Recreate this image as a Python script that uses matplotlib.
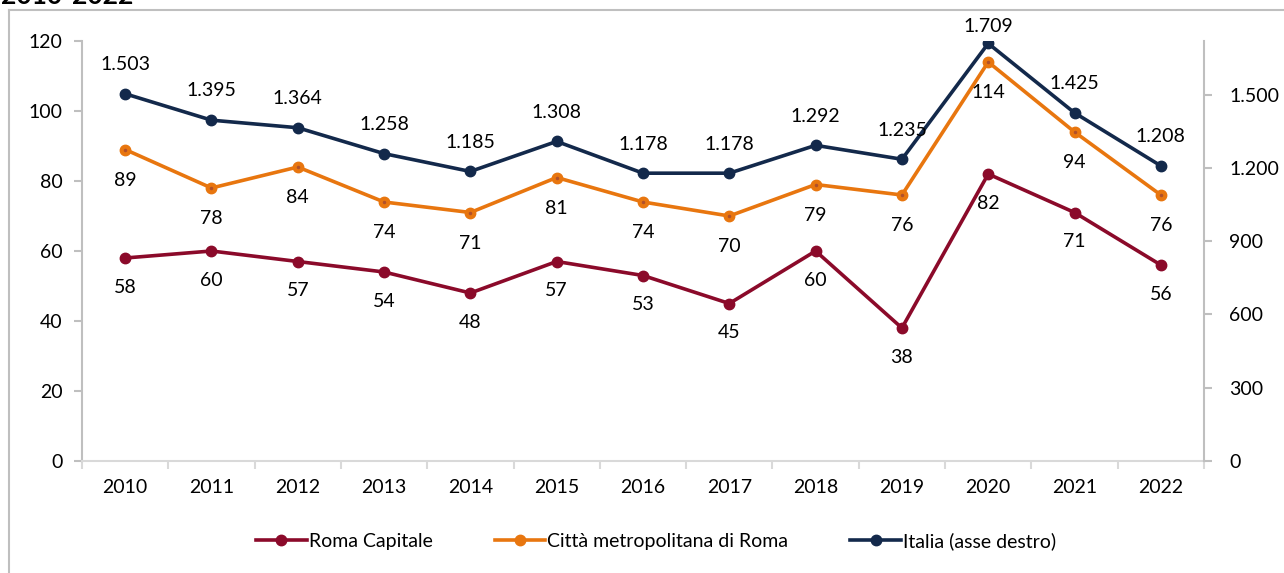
import matplotlib.pyplot as plt
from matplotlib.lines import Line2D
from matplotlib.ticker import FixedLocator, FuncFormatter

anni = ['2010', '2011', '2012', '2013', '2014', '2015', '2016',
        '2017', '2018', '2019', '2020', '2021', '2022']
roma = [58, 60, 57, 54, 48, 57, 53, 45, 60, 38, 82, 71, 56]
citta = [89, 78, 84, 74, 71, 81, 74, 70, 79, 76, 114, 94, 76]
italia = [1503, 1395, 1364, 1258, 1185, 1308, 1178, 1178, 1292, 1235, 1709, 1425, 1208]

c_roma = '#8B0A2A'
c_citta = '#E8760F'
c_italia = '#13294B'
grigio = '#BFBFBF'

plt.rcParams['font.family'] = ['Lato', 'DejaVu Sans']


def punto(v):
    return f'{v:,}'.replace(',', '.')


fig = plt.figure(figsize=(12.84, 5.73), dpi=100)
W, H = 1284, 573

# cornice esterna e titolo tagliato
fig.add_artist(Line2D([9 / W, 9 / W], [0, 1 - 10 / H], color=grigio, lw=1.5))
fig.add_artist(Line2D([9 / W, 1], [1 - 10 / H, 1 - 10 / H], color=grigio, lw=1.5))
fig.text(0.001, 1 - 4 / H, '2010-2022', fontsize=19, weight='bold', va='baseline')

ax = fig.add_axes([82 / W, 1 - 461 / H, (1204 - 82) / W, (461 - 41) / H])
ax2 = ax.twinx()

x = list(range(len(anni)))
ax.plot(x, roma, color=c_roma, lw=2.6, marker='o', ms=7.5, label='Roma Capitale', zorder=3)
ax.plot(x, citta, color=c_citta, lw=2.6, marker='o', ms=7.5, label='Città metropolitana di Roma', zorder=3)
ax.plot(x, citta, ls='none', marker='o', ms=1.5, color='#B0502A', zorder=4)
ax2.plot(x, italia, color=c_italia, lw=2.6, marker='o', ms=7.5, label='Italia (asse destro)', zorder=3)

for i in x:
    ax.annotate(str(roma[i]), (i, roma[i]), xytext=(0, -21), textcoords='offset points',
                ha='center', va='center', fontsize=14)
    ax.annotate(str(citta[i]), (i, citta[i]), xytext=(0, -22), textcoords='offset points',
                ha='center', va='center', fontsize=14)
    su = 21 if italia[i] < 1600 else 12
    ax2.annotate(punto(italia[i]), (i, italia[i]), xytext=(0, su), textcoords='offset points',
                 ha='center', va='center', fontsize=14)

ax.set_xlim(-0.5, 12.5)
ax.set_ylim(0, 120)
ax2.set_ylim(0, 1719)
ax.set_yticks(range(0, 121, 20))
ax2.set_yticks(range(0, 1501, 300))
ax2.yaxis.set_major_formatter(FuncFormatter(lambda v, p: punto(int(v))))

ax.set_xticks(x)
ax.set_xticklabels(anni)
ax.xaxis.set_minor_locator(FixedLocator([i - 0.5 for i in range(len(anni) + 1)]))
ax.tick_params(axis='x', which='major', length=0, pad=13, labelsize=14)
ax.tick_params(axis='x', which='minor', length=6, color='#D9D9D9', width=1.5)
ax.tick_params(axis='y', length=6, color=grigio, width=1.5, labelsize=14, pad=8)
ax2.tick_params(axis='y', length=6, color=grigio, width=1.5, labelsize=14, pad=12)

for a in (ax, ax2):
    a.spines['top'].set_visible(False)
    a.spines['left'].set_color(grigio)
    a.spines['right'].set_color(grigio)
    a.spines['bottom'].set_color('#D9D9D9')
    for s in a.spines.values():
        s.set_linewidth(1.5)
ax.spines['right'].set_visible(False)
ax2.spines['left'].set_visible(False)
ax2.spines['bottom'].set_visible(False)

h1, l1 = ax.get_legend_handles_labels()
h2, l2 = ax2.get_legend_handles_labels()
fig.legend(h1 + h2, l1 + l2, loc='center', bbox_to_anchor=(656 / W, 1 - 541 / H),
           ncol=3, frameon=False, fontsize=14, handlelength=2.6, handletextpad=0.1,
           columnspacing=3.2)

fig.savefig('out.png', dpi=100)
